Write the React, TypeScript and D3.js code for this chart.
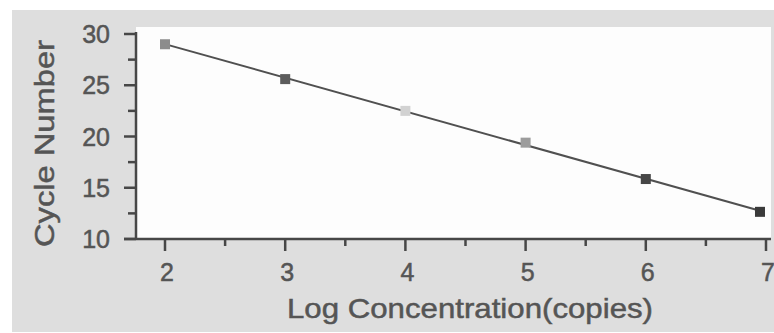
import * as d3 from "d3";

// ── Data ──────────────────────────────────────────────────────
const LOG_CONC = [2, 3, 4, 5, 6, 6.95];
const CYCLES = [29.0, 25.6, 22.5, 19.4, 15.85, 12.65];
const MARKER_FILL = ["#8c8c8c", "#5c5c5c", "#d2d2d2", "#9c9c9c", "#464646", "#3a3a3a"];
const X_TICKS = [2, 3, 4, 5, 6, 7];
const X_MINOR = [2.5, 3.5, 4.5, 5.5, 6.5];
const Y_TICKS = [10, 15, 20, 25, 30];
const Y_MINOR = [12.5, 17.5, 22.5, 27.5];

// ── Geometry ──────────────────────────────────────────────────
const W = 774;
const H = 333;
const PLOT = { left: 136, right: 771, top: 27, bottom: 239 };
const AXIS = "#474747";
const TEXT = "#555";
const FONT = "'Liberation Sans', Arial, Helvetica, sans-serif";

export default function App() {
  const x = d3.scaleLinear().domain([2, 7]).range([165, 766]);
  const y = d3.scaleLinear().domain([10, 30]).range([PLOT.bottom, 34]);

  // least squares fit, drawn over the measured range
  const mx = d3.mean(LOG_CONC) as number;
  const my = d3.mean(CYCLES) as number;
  const slope =
    d3.sum(LOG_CONC, (v, i) => (v - mx) * (CYCLES[i] - my)) /
    d3.sum(LOG_CONC, (v) => (v - mx) ** 2);
  const fit = (v: number) => my + slope * (v - mx);
  const x0 = LOG_CONC[0];
  const x1 = LOG_CONC[LOG_CONC.length - 1];
  const line = d3.line<number>().x((v) => x(v)).y((v) => y(fit(v)));

  const S = 10;

  return (
    <svg
      width={W}
      height={H}
      style={{ position: "absolute", left: 0, top: 0, background: "#fff" }}
      fontFamily={FONT}
    >
      {/* panel */}
      <rect x={12} y={10} width={W - 12} height={322} fill="#dedede" />
      <rect
        x={PLOT.left}
        y={PLOT.top}
        width={PLOT.right - PLOT.left}
        height={PLOT.bottom - PLOT.top}
        fill="#fdfdfd"
      />

      {/* fitted line */}
      <path d={line([x0, x1]) ?? ""} fill="none" stroke="#505050" strokeWidth={2} />

      {/* points */}
      {LOG_CONC.map((v, i) => (
        <rect
          key={v}
          x={x(v) - S / 2}
          y={y(CYCLES[i]) - S / 2}
          width={S}
          height={S}
          fill={MARKER_FILL[i]}
        />
      ))}

      {/* axes */}
      <line x1={PLOT.left} x2={PLOT.left} y1={32} y2={PLOT.bottom} stroke={AXIS} strokeWidth={2.5} />
      <line x1={124} x2={PLOT.right} y1={PLOT.bottom} y2={PLOT.bottom} stroke={AXIS} strokeWidth={2.5} />

      <g fill={TEXT} stroke={TEXT} strokeWidth={0.5}>
        {Y_TICKS.map((t) => (
          <text key={`yl${t}`} x={110} y={y(t) + 9} textAnchor="end" fontSize={25}>
            {t}
          </text>
        ))}
        {X_TICKS.map((t) => (
          <text key={`xl${t}`} x={x(t) + 2} y={281} textAnchor="middle" fontSize={25}>
            {t}
          </text>
        ))}
      </g>

      {Y_TICKS.map((t) => (
        <line key={`y${t}`} x1={124} x2={PLOT.left} y1={y(t)} y2={y(t)} stroke={AXIS} strokeWidth={2.5} />
      ))}
      {Y_MINOR.map((t) => (
        <line key={`ym${t}`} x1={128} x2={PLOT.left} y1={y(t)} y2={y(t)} stroke={AXIS} strokeWidth={2.5} />
      ))}
      {X_TICKS.map((t) => (
        <line key={`x${t}`} x1={x(t)} x2={x(t)} y1={PLOT.bottom} y2={PLOT.bottom + 12} stroke={AXIS} strokeWidth={2.5} />
      ))}
      {X_MINOR.map((t) => (
        <line key={`xm${t}`} x1={x(t)} x2={x(t)} y1={PLOT.bottom} y2={PLOT.bottom + 7} stroke={AXIS} strokeWidth={2.5} />
      ))}

      {/* axis titles */}
      <g fill={TEXT} stroke={TEXT} strokeWidth={0.5}>
        <text
          x={470}
          y={318}
          textAnchor="middle"
          fontSize={28}
          textLength={366}
          lengthAdjust="spacingAndGlyphs"
        >
          Log Concentration(copies)
        </text>
        <text
          transform="translate(54, 143.5) rotate(-90)"
          textAnchor="middle"
          fontSize={28}
          textLength={207}
          lengthAdjust="spacingAndGlyphs"
        >
          Cycle Number
        </text>
      </g>
    </svg>
  );
}
